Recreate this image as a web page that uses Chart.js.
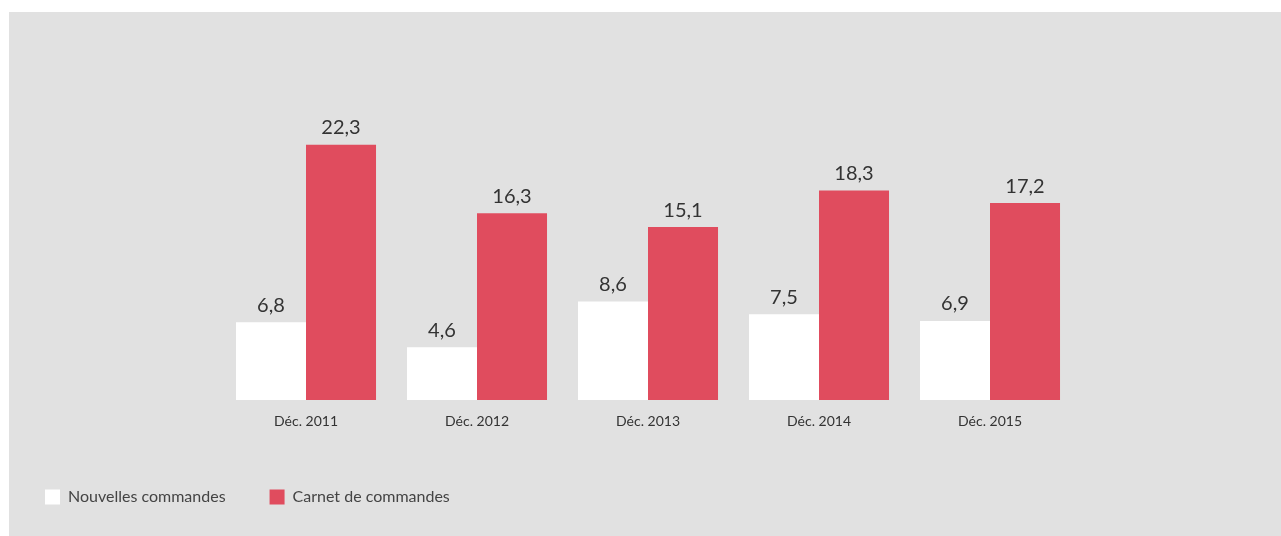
<!DOCTYPE html>
<html>
<head>
<meta charset="utf-8">
<script src="https://cdn.jsdelivr.net/npm/chart.js@4.4.1/dist/chart.umd.min.js"></script>
<style>
  body { margin: 0; background: #fff; }
  #panel { position: absolute; left: 9px; top: 12px; width: 1272px; height: 524px; background: #e1e1e1; }
  #ordersChart { position: absolute; left: 0; top: 0; }
</style>
</head>
<body>
<div id="panel"></div>
<canvas id="ordersChart" width="1281" height="536"></canvas>
<script>
const Categories = ['Déc. 2011', 'Déc. 2012', 'Déc. 2013', 'Déc. 2014', 'Déc. 2015'];
const NewOrders = [6.8, 4.6, 8.6, 7.5, 6.9];
const Backlog = [22.3, 16.3, 15.1, 18.3, 17.2];
const SeriesNames = ['Nouvelles commandes', 'Carnet de commandes'];
const SeriesColors = ['#ffffff', '#e04c5e'];

const FONT = "Lato, 'Open Sans', sans-serif";
const LEGEND_GAP = 44;

// draws the value over each bar, french decimal comma
const valueLabels = {
    id: 'valueLabels',
    afterDatasetsDraw(chart) {
        const ctx = chart.ctx;
        ctx.save();
        ctx.font = `20px ${FONT}`;
        ctx.fillStyle = '#333';
        ctx.textAlign = 'center';
        ctx.textBaseline = 'bottom';
        chart.data.datasets.forEach((ds, i) => {
            chart.getDatasetMeta(i).data.forEach((bar, j) => {
                const txt = ds.data[j].toFixed(1).replace('.', ',');
                ctx.fillText(txt, bar.x, bar.y - 7);
            });
        });
        ctx.restore();
    }
};

const elem = document.getElementById('ordersChart');
new Chart(elem.getContext('2d'), {
    type: 'bar',
    data: {
        labels: Categories,
        datasets: [
            { label: SeriesNames[0], data: NewOrders, backgroundColor: SeriesColors[0], borderWidth: 0 },
            { label: SeriesNames[1], data: Backlog, backgroundColor: SeriesColors[1], borderWidth: 0 }
        ]
    },
    options: {
        responsive: false,
        animation: false,
        events: [],
        layout: { padding: { left: 45 - LEGEND_GAP, right: 205.5, top: 56.5, bottom: 21 } },
        datasets: { bar: { categoryPercentage: 0.819, barPercentage: 1 } },
        plugins: {
            tooltip: { enabled: false },
            legend: {
                position: 'bottom',
                align: 'start',
                labels: {
                    boxWidth: 15,
                    boxHeight: 15,
                    padding: LEGEND_GAP,
                    color: '#444',
                    font: { family: FONT, size: 16 }
                }
            }
        },
        scales: {
            x: {
                grid: { display: false },
                border: { display: false },
                ticks: { color: '#333', padding: 5, font: { family: FONT, size: 14 } },
                afterFit: (s) => { s.height = 89 - LEGEND_GAP; }
            },
            y: {
                min: 0,
                max: 30,
                grid: { display: false },
                border: { display: false },
                ticks: { display: false },
                afterFit: (s) => { s.width = 220.5 - (45 - LEGEND_GAP); }
            }
        }
    },
    plugins: [valueLabels]
});
</script>
</body>
</html>
